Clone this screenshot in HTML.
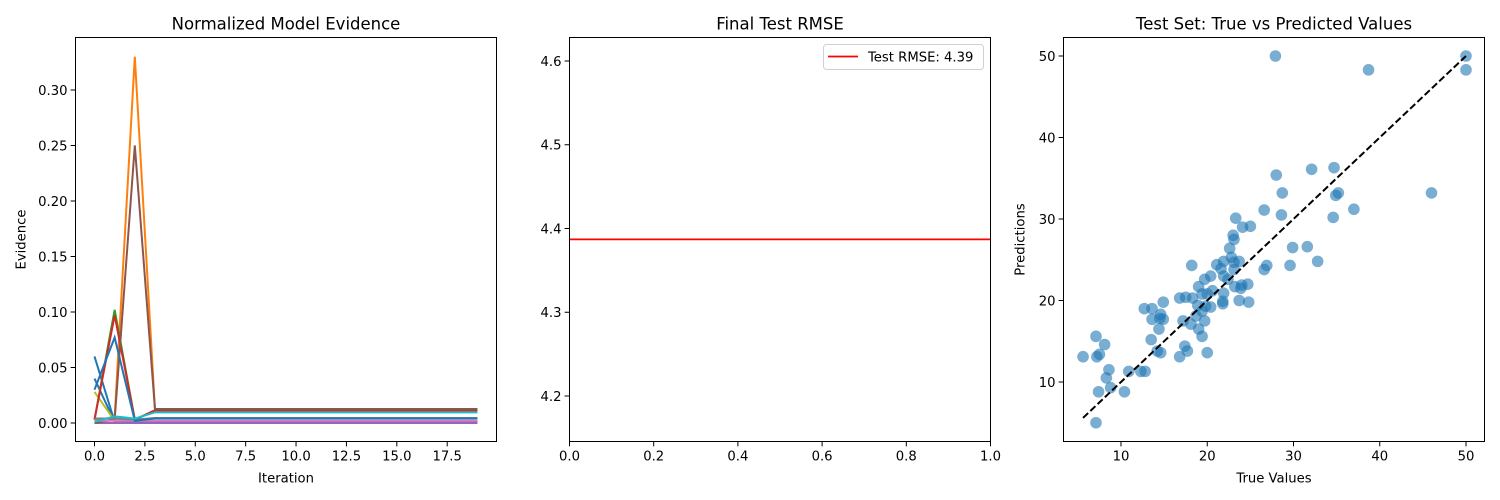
<!DOCTYPE html>
<html><head><meta charset="utf-8">
<style>
html,body{margin:0;padding:0;background:#fff;}
svg{display:block;font-family:"DejaVu Sans","Liberation Sans",sans-serif;}
</style></head>
<body>
<svg id="fig" width="1500" height="500" xmlns="http://www.w3.org/2000/svg"></svg>
<script>
// ---------- Panel 1 data ----------
const iterations = [0,1,2,3,4,5,6,7,8,9,10,11,12,13,14,15,16,17,18,19];
const evBlueA = [0.060,0.001,0.001,0.001];
const evBlueB = [0.040,0.001,0.001,0.001];
const evBlueC = [0.030,0.077,0.002,0.004];
const evOrange = [0.003,0.005,0.330,0.0126];
const evGreen = [0.003,0.102,0.003,0.011];
const evRed = [0.003,0.097,0.003,0.0115];
const evPurple = [0.000,0.000,0.000,0.000];
const evBrown = [0.000,0.003,0.250,0.0126];
const evPink = [0.002,0.002,0.002,0.002];
const evGray = [0.004,0.004,0.003,0.0045];
const evOlive = [0.028,0.002,0.003,0.0115];
const evCyan = [0.001,0.006,0.004,0.0096];
const evSeries = [
  {name:'blue-a',v:evBlueA,c:'#1f77b4'},{name:'blue-b',v:evBlueB,c:'#1f77b4'},
  {name:'olive',v:evOlive,c:'#bcbd22'},{name:'orange',v:evOrange,c:'#ff7f0e'},
  {name:'green',v:evGreen,c:'#2ca02c'},{name:'red',v:evRed,c:'#d62728'},
  {name:'purple',v:evPurple,c:'#9467bd'},{name:'brown',v:evBrown,c:'#8c564b'},
  {name:'pink',v:evPink,c:'#e377c2'},{name:'gray',v:evGray,c:'#7f7f7f'},
  {name:'blue-c',v:evBlueC,c:'#1f77b4'},{name:'cyan',v:evCyan,c:'#17becf'}
];
const p1XTicks = [0,2.5,5,7.5,10,12.5,15,17.5];
const p1YTicks = [0,0.05,0.10,0.15,0.20,0.25,0.30];

// ---------- Panel 2 data ----------
const rmseValue = [4.387];
const p2XTicks = [0,0.2,0.4,0.6,0.8,1.0];
const p2YTicks = [4.2,4.3,4.4,4.5,4.6];

// ---------- Panel 3 data ----------
const trueVals = [27.9,50,50,38.7,28.0,32.1,34.7,28.7,46.0,34.9,35.2,26.6,37.0,28.6,34.6,23.3,24.1,25.0,23.0,23.1,22.6,29.9,31.6,32.8,29.6,26.6,26.9,22.8,21.9,21.1,21.6,23.1,23.7,23.1,21.9,22.4,18.2,19.7,20.4,24.0,24.7,23.2,23.9,19.0,20.6,20.0,19.4,21.9,21.8,21.8,23.7,24.8,16.8,17.5,18.3,14.9,18.9,19.8,20.4,19.4,12.7,13.6,14.6,13.6,14.5,14.9,17.2,18.7,18.1,19.7,14.4,19.0,19.4,7.1,8.1,13.5,17.4,17.7,14.2,14.6,20.0,16.8,5.6,7.2,7.5,8.6,10.9,12.3,12.8,8.3,8.8,7.4,10.4,7.1];
const predVals = [50,50,48.3,48.3,35.4,36.1,36.3,33.2,33.2,32.9,33.2,31.1,31.2,30.5,30.2,30.1,29.0,29.1,28.0,27.5,26.4,26.5,26.6,24.8,24.3,23.8,24.3,25.3,24.8,24.4,23.9,24.7,24.8,23.8,23.0,22.6,24.3,22.6,23.0,21.9,22.0,21.7,21.5,21.7,21.2,20.8,20.8,20.9,19.9,19.6,20.0,19.8,20.3,20.4,20.3,19.8,19.4,19.3,19.2,18.7,19.0,19.0,18.3,17.7,17.8,17.7,17.5,18.1,17.1,17.5,16.5,16.5,15.6,15.6,14.6,15.2,14.4,13.8,13.8,13.6,13.6,13.1,13.1,13.1,13.4,11.5,11.3,11.3,11.3,10.5,9.3,8.8,8.8,5.0];
const idealLine = [5.6,50];
const p3XTicks = [10,20,30,40,50];
const p3YTicks = [10,20,30,40,50];

const NS='http://www.w3.org/2000/svg';
const fig=document.getElementById('fig');
function mk(tag,attrs,parent){const e=document.createElementNS(NS,tag);for(const k in attrs)e.setAttribute(k,attrs[k]);(parent||fig).appendChild(e);return e;}
function scale(d0,d1,r0,r1){return v=>r0+(v-d0)/(d1-d0)*(r1-r0);}
function fmt(v,dec){return v.toFixed(dec);}

function axes(name,L,T,R,B,sx,sy,xt,xdec,yt,ydec,title,xlabel,ylabel){
  const g=mk('g',{});
  
  
  const t=mk('text',{x:(L+R)/2,y:T-8,'text-anchor':'middle','font-size':16.5,fill:'#000'},g);
  t.textContent=title;
  
  
  xt.forEach(v=>{const x=sx(v);
    mk('line',{x1:x,x2:x,y1:B,y2:B+4.9,stroke:'#000','stroke-width':1},g);
    const l=mk('text',{x:x,y:B+19,'text-anchor':'middle','font-size':13.2,fill:'#000'},g);
    l.textContent=fmt(v,xdec);
    
    });
  yt.forEach(v=>{const y=sy(v);
    mk('line',{x1:L-4.9,x2:L,y1:y,y2:y,stroke:'#000','stroke-width':1},g);
    const l=mk('text',{x:L-8,y:y+4.8,'text-anchor':'end','font-size':13.2,fill:'#000'},g);
    l.textContent=fmt(v,ydec);
    
    });
  if(xlabel){const l=mk('text',{x:(L+R)/2,y:B+41,'text-anchor':'middle','font-size':13.2,fill:'#000'},g);l.textContent=xlabel;
    
    }
  if(ylabel){const cx=L-(name==='evidence'?50:39),cy=(T+B)/2;const l=mk('text',{x:cx,y:cy,'text-anchor':'middle','font-size':13.2,fill:'#000',transform:`rotate(-90 ${cx} ${cy})`},g);l.textContent=ylabel;
    
    }
  return g;
}
function frame(L,T,R,B){const r=mk('rect',{x:L,y:T,width:R-L,height:B-T,fill:'none',stroke:'#000','stroke-width':1});
  
  }

// Panel 1
(function(){
  const L=75.5,T=37.5,R=496.5,B=441.5;
  const sx=scale(0,17.5,94.5,447.2), sy=scale(0,0.30,423,90);
  axes('evidence',L,T,R,B,sx,sy,p1XTicks,1,p1YTicks,2,'Normalized Model Evidence','Iteration','Evidence');
  const clip=mk('clipPath',{id:'c1'});mk('rect',{x:L,y:T,width:R-L,height:B-T},clip);
  evSeries.forEach(s=>{
    const vals=iterations.map(i=>s.v[Math.min(i,s.v.length-1)]);
    const pts=iterations.map((it,i)=>sx(it)+','+sy(vals[i])).join(' ');
    const p=mk('polyline',{points:pts,fill:'none',stroke:s.c,'stroke-width':2,'clip-path':'url(#c1)'});
    
    
  });
  frame(L,T,R,B);
})();

// Panel 2
(function(){
  const L=569.5,T=37.5,R=990.5,B=441.5;
  const sx=scale(0,1,569.5,990.5), sy=scale(4.2,4.6,396,61);
  axes('rmse',L,T,R,B,sx,sy,p2XTicks,1,p2YTicks,1,'Final Test RMSE','','');
  const y=sy(rmseValue[0]);
  const ln=mk('line',{x1:L,x2:R,y1:y,y2:y,stroke:'#ff0000','stroke-width':1.8});
  
  
  const lg=mk('g',{});
  
  
  mk('rect',{x:823.5,y:44.5,width:160,height:25,rx:3,fill:'#fff','fill-opacity':0.8,stroke:'#d0d0d0'},lg);
  mk('line',{x1:828,x2:858,y1:56.5,y2:56.5,stroke:'#ff0000','stroke-width':1.8},lg);
  const lt=mk('text',{x:868,y:61.5,'font-size':13.2,fill:'#000'},lg);
  lt.textContent='Test RMSE: '+rmseValue[0].toFixed(2);
  
  
  frame(L,T,R,B);
})();

// Panel 3
(function(){
  const L=1063.5,T=37.5,R=1484.5,B=441.5;
  const sx=scale(10,50,1121,1466), sy=scale(10,50,382,56);
  axes('scatter',L,T,R,B,sx,sy,p3XTicks,0,p3YTicks,0,'Test Set: True vs Predicted Values','True Values','Predictions');
  trueVals.forEach((tv,i)=>{
    const c=mk('circle',{cx:sx(tv),cy:sy(predVals[i]),r:5.8,fill:'#1f77b4','fill-opacity':0.6});
    
    
  });
  const d=mk('line',{x1:sx(idealLine[0]),y1:sy(idealLine[0]),x2:sx(idealLine[1]),y2:sy(idealLine[1]),stroke:'#000','stroke-width':2,'stroke-dasharray':'7,3'});
  
  
  frame(L,T,R,B);
})();
</script>
</body></html>
